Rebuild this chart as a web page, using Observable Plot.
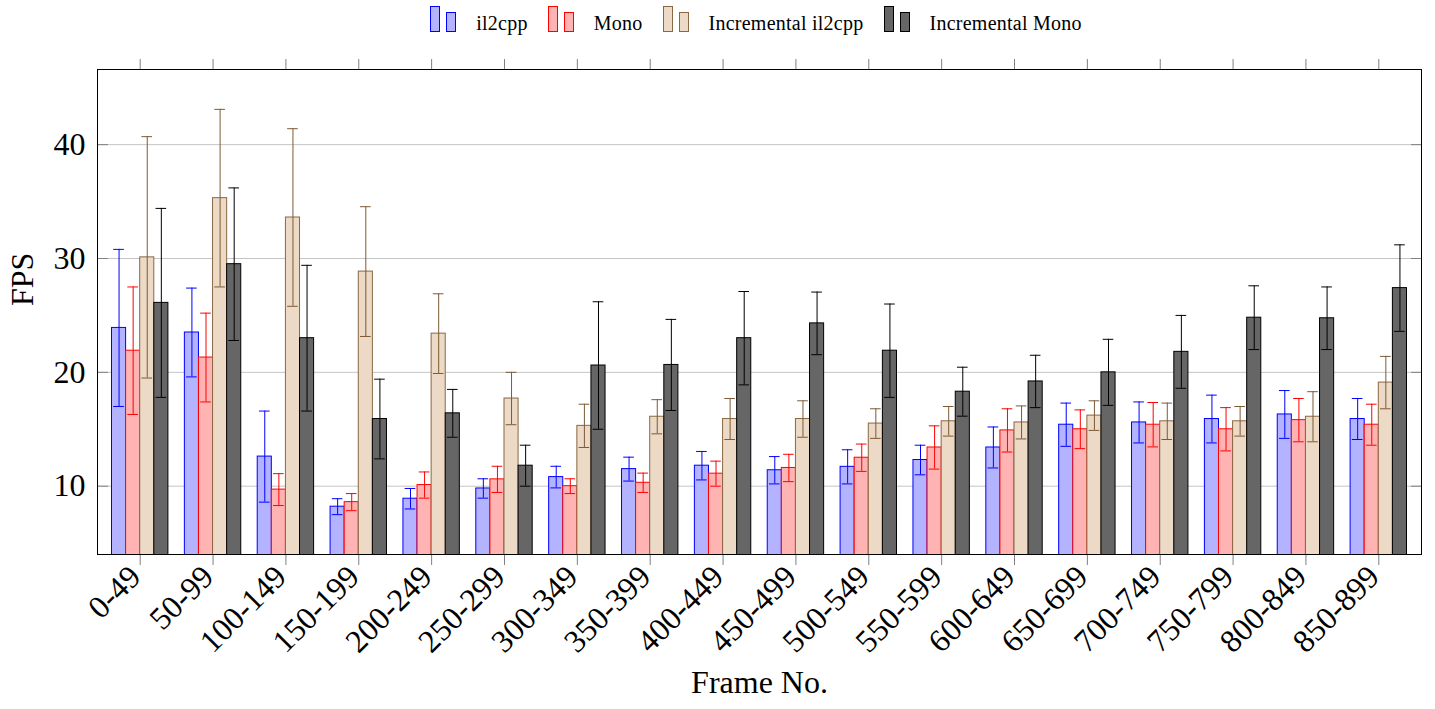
<!DOCTYPE html>
<html>
<head>
<meta charset="utf-8">
<script src="https://cdn.jsdelivr.net/npm/d3@7"></script>
<script src="https://cdn.jsdelivr.net/npm/@observablehq/plot@0.6"></script>
<style>
  body { margin: 0; background: #fff; font-family: "Liberation Serif", serif; }
  #legend {
    height: 40px; box-sizing: border-box; padding-left: 77px;
    display: flex; justify-content: center; align-items: flex-start;
  }
  .item { display: flex; align-items: flex-end; height: 32px; margin-right: 20px; }
  .item:last-child { margin-right: 0; }
  .item svg { margin-right: 20px; display: block; }
  .item span { font-size: 20px; line-height: 20px; letter-spacing: 0.25px; transform: translateY(1px); color: #000; }
</style>
</head>
<body>
<div id="legend"></div>
<div id="chart"></div>
<script>
// Frame ranges on the x axis
const frameRanges = ["0-49", "50-99", "100-149", "150-199", "200-249", "250-299", "300-349",
  "350-399", "400-449", "450-499", "500-549", "550-599", "600-649", "650-699", "700-749",
  "750-799", "800-849", "850-899"];

// Mean FPS and its spread per frame range
const il2cpp = [23.9, 23.5, 12.6, 8.2, 8.9, 9.8, 10.8, 11.5, 11.8, 11.4, 11.7, 12.3, 13.4, 15.4, 15.6, 15.9, 16.3, 15.9];
const il2cppErr = [6.9, 3.9, 4.0, 0.7, 0.9, 0.85, 0.95, 1.05, 1.25, 1.2, 1.5, 1.3, 1.8, 1.9, 1.8, 2.1, 2.1, 1.8];

const mono = [21.9, 21.3, 9.7, 8.6, 10.1, 10.6, 10.0, 10.3, 11.1, 11.6, 12.5, 13.4, 14.9, 15.0, 15.4, 15.0, 15.8, 15.4];
const monoErr = [5.6, 3.9, 1.4, 0.75, 1.15, 1.15, 0.65, 0.85, 1.1, 1.2, 1.2, 1.9, 1.9, 1.7, 1.95, 1.9, 1.9, 1.8];

const incIl2cpp = [30.1, 35.3, 33.6, 28.85, 23.4, 17.7, 15.3, 16.1, 15.9, 15.9, 15.5, 15.7, 15.6, 16.2, 15.7, 15.7, 16.1, 19.1];
const incIl2cppErr = [10.6, 7.8, 7.8, 5.7, 3.5, 2.3, 1.9, 1.5, 1.8, 1.6, 1.3, 1.3, 1.45, 1.3, 1.6, 1.3, 2.2, 2.3];

const incMono = [26.1, 29.5, 23.0, 15.9, 16.4, 11.8, 20.6, 20.65, 23.0, 24.3, 21.9, 18.3, 19.2, 20.0, 21.8, 24.8, 24.75, 27.4];
const incMonoErr = [8.3, 6.7, 6.4, 3.5, 2.1, 1.8, 5.6, 4.0, 4.1, 2.75, 4.1, 2.15, 2.3, 2.9, 3.2, 2.8, 2.75, 3.8];

const seriesNames = ["il2cpp", "Mono", "Incremental il2cpp", "Incremental Mono"];
const yTicks = [10, 20, 30, 40];

// Styling per series
const fills = ["#b3b3ff", "#ffb3b3", "#ecd9c6", "#666666"];
const strokes = ["#0000ff", "#ff0000", "#8a6843", "#000000"];
const errStrokes = ["#0000ff", "#ff0000", "#7c5a35", "#000000"];

const allValues = [il2cpp, mono, incIl2cpp, incMono];
const allErrors = [il2cppErr, monoErr, incIl2cppErr, incMonoErr];

// Bar geometry in group units (one group = one unit on x)
const barW = 0.1935;
const capHalf = 0.073;

const rows = [];
allValues.forEach((vals, si) => {
  vals.forEach((v, gi) => {
    const x1 = gi - 2 * barW + si * barW;
    rows.push({
      series: seriesNames[si], si, gi, value: v, err: allErrors[si][gi],
      x1, x2: x1 + barW, xc: x1 + barW / 2
    });
  });
});

// Legend
const legend = document.getElementById("legend");
seriesNames.forEach((name, i) => {
  const item = document.createElement("div");
  item.className = "item";
  item.innerHTML =
    `<svg width="26" height="26" viewBox="0 0 26 26">
       <rect x="0.5" y="0.5" width="9" height="25" fill="${fills[i]}" stroke="${strokes[i]}"/>
       <rect x="16.5" y="6.5" width="9" height="19" fill="${fills[i]}" stroke="${strokes[i]}"/>
     </svg><span>${name}</span>`;
  legend.appendChild(item);
});

const tickColor = "#808080";
const marks = [
  Plot.gridY(yTicks, {stroke: "#c4c4c4", strokeOpacity: 1}),
];

seriesNames.forEach((name, si) => {
  const data = rows.filter(d => d.si === si);
  marks.push(
    Plot.rectY(data, {x1: "x1", x2: "x2", y1: 0, y2: "value", fill: fills[si], stroke: strokes[si], strokeWidth: 1, clip: true})
  );
});

seriesNames.forEach((name, si) => {
  const data = rows.filter(d => d.si === si);
  const st = errStrokes[si];
  marks.push(
    Plot.ruleX(data, {x: "xc", y1: d => d.value - d.err, y2: d => d.value + d.err, stroke: st, strokeWidth: 1}),
    Plot.ruleY(data, {y: d => d.value + d.err, x1: d => d.xc - capHalf, x2: d => d.xc + capHalf, stroke: st, strokeWidth: 1}),
    Plot.ruleY(data, {y: d => d.value - d.err, x1: d => d.xc - capHalf, x2: d => d.xc + capHalf, stroke: st, strokeWidth: 1})
  );
});

const groupIdx = d3.range(frameRanges.length);
marks.push(
  // y tick labels
  Plot.axisY(yTicks, {anchor: "left", tickSize: 0, tickPadding: 12, label: null}),
  // inward y ticks on both sides
  Plot.axisY(yTicks, {anchor: "left", tickSize: 11, dx: 11, tickFormat: () => "", label: null, stroke: tickColor}),
  Plot.axisY(yTicks, {anchor: "right", tickSize: 11, dx: -11, tickFormat: () => "", label: null, stroke: tickColor}),
  // outward x ticks at top and bottom
  Plot.axisX(groupIdx, {anchor: "bottom", tickSize: 11, tickFormat: () => "", label: null, stroke: tickColor}),
  Plot.axisX(groupIdx, {anchor: "top", tickSize: 11, tickFormat: () => "", label: null, stroke: tickColor}),
  // rotated frame-range labels
  Plot.axisX(groupIdx, {anchor: "bottom", tickSize: 0, tickPadding: 17, dx: -5, tickRotate: -45, tickFormat: i => frameRanges[i], label: null}),
  Plot.frame({stroke: "#000", strokeWidth: 1}),
  Plot.text(["FPS"], {frameAnchor: "left", dx: -75, dy: -6, rotate: -90, text: d => d, fontSize: 32}),
  Plot.text(["Frame No."], {frameAnchor: "bottom", dy: 138, text: d => d, fontSize: 32})
);

const chart = Plot.plot({
  width: 1435,
  height: 669,
  marginTop: 29,
  marginBottom: 155,
  marginLeft: 97,
  marginRight: 14,
  style: {fontFamily: "Liberation Serif, serif", fontSize: "32px", background: "white", color: "black", overflow: "visible"},
  x: {type: "linear", domain: [-0.586, frameRanges.length - 1 + 0.586], axis: null},
  y: {domain: [4, 46.6], axis: null},
  marks
});
document.getElementById("chart").appendChild(chart);
</script>
</body>
</html>
